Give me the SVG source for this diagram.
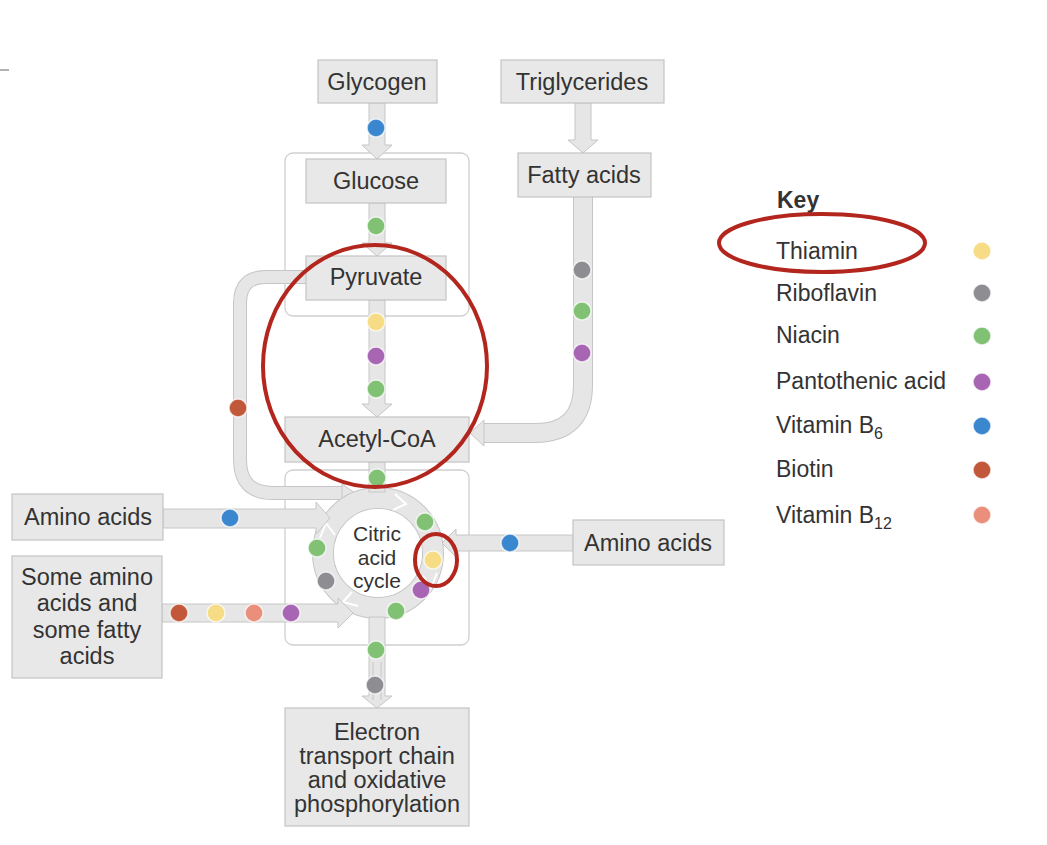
<svg xmlns="http://www.w3.org/2000/svg" width="1047" height="845" viewBox="0 0 1047 845">
<style>
.box{fill:#e8e8e8;stroke:#c4c4c4;stroke-width:1.2}
.frame{fill:none;stroke:#cfcfcf;stroke-width:1.3}
.t{font-family:"Liberation Sans",Arial,sans-serif;font-size:23.5px;fill:#333;text-anchor:middle;dominant-baseline:central}
.c{font-size:21px}
.k{font-family:"Liberation Sans",Arial,sans-serif;font-size:23px;fill:#333}
.po{fill:none;stroke:#c6c6c6}
.pi{fill:none;stroke:#e6e6e6}
.head{fill:#e6e6e6;stroke:#c6c6c6;stroke-width:1}
.dot{stroke:#fff;stroke-opacity:0.7;stroke-width:1.5}
.ann{fill:none;stroke:#b3261e;stroke-width:4}
.yel{fill:#f6dc85}.gry{fill:#8d8d92}.grn{fill:#80c173}.pur{fill:#a865b4}.blu{fill:#3b87cf}.brn{fill:#c2583a}.sal{fill:#e98f7b}
</style>
<line x1="0" y1="70" x2="9" y2="70" stroke="#999" stroke-width="1.5"/>
<rect class="frame" x="285" y="153" width="184" height="163" rx="8"/>
<rect class="frame" x="285" y="470" width="184" height="175" rx="8"/>
<g id="connectors">
  <polygon class="head" points="369,103 385,103 385,145 392,145 377,159 362,145 369,145"/>
  <polygon class="head" points="369,203 385,203 385,243 392,243 377,256 362,243 369,243"/>
  <polygon class="head" points="369,300 385,300 385,404 392,404 377,417 362,404 369,404"/>
  <polygon class="head" points="575,103 591,103 591,140 598,140 583,153 568,140 575,140"/>
  <path class="po" stroke-width="20" d="M583,197 V385 Q583,433 535,433 H482"/>
  <path class="pi" stroke-width="18" d="M583,196 V385 Q583,433 535,433 H481"/>
  <polygon class="head" points="484,420 470,433 484,446"/>
  <path class="po" stroke-width="14" d="M306,277 H266 Q240,277 240,303 V460 Q240,493 273,493 H342"/>
  <path class="pi" stroke-width="12" d="M307,277 H266 Q240,277 240,303 V460 Q240,493 273,493 H343"/>
  <polygon class="head" points="342,484 355,493 342,502"/>
  <circle cx="378" cy="553" r="55" fill="none" stroke="#c6c6c6" stroke-width="22"/>
  <circle cx="378" cy="553" r="55" fill="none" stroke="#e6e6e6" stroke-width="20"/>
  <circle cx="378" cy="553" r="44" fill="#fff"/>
  <path d="M395,494 L406,504 L393,510" fill="none" stroke="#fff" stroke-width="2"/>
  <path d="M437,573 L431,588 L423,576" fill="none" stroke="#fff" stroke-width="2"/>
  <path d="M358,606 L343,602 L352,592" fill="none" stroke="#fff" stroke-width="2"/>
  <path d="M320,538 L326,523 L335,535" fill="none" stroke="#fff" stroke-width="2"/>
  <rect x="369" y="462" width="16" height="30" fill="#e6e6e6" stroke="#c6c6c6"/>
  <polygon class="head" points="163,509 316,509 316,502 330,518 316,534 316,528 163,528"/>
  <polygon class="head" points="162,604 338,604 338,598 353,613 338,628 338,622 162,622"/>
  <polygon class="head" points="573,535 456,535 456,529 442,543 456,557 456,551 573,551"/>
  <polygon class="head" points="369,617 385,617 385,696 392,696 377,708 362,696 369,696"/>
  <line x1="373" y1="662" x2="373" y2="700" stroke="#c6c6c6" stroke-width="1"/>
  <line x1="381" y1="662" x2="381" y2="700" stroke="#c6c6c6" stroke-width="1"/>
</g>
<g id="glycogen"><rect class="box" x="318" y="60" width="119" height="43"/><text class="t" x="377" y="82">Glycogen</text></g>
<g id="triglycerides"><rect class="box" x="501" y="60" width="163" height="43"/><text class="t" x="582" y="82">Triglycerides</text></g>
<g id="glucose"><rect class="box" x="306" y="159" width="140" height="44"/><text class="t" x="376" y="181">Glucose</text></g>
<g id="fatty-acids"><rect class="box" x="518" y="153" width="133" height="44"/><text class="t" x="584" y="175">Fatty acids</text></g>
<g id="pyruvate"><rect class="box" x="306" y="256" width="140" height="44"/><text class="t" x="376" y="277">Pyruvate</text></g>
<g id="acetyl-coa"><rect class="box" x="285" y="417" width="184" height="45"/><text class="t" x="377" y="439">Acetyl-CoA</text></g>
<g id="amino-acids-left"><rect class="box" x="12" y="494" width="151" height="46"/><text class="t" x="88" y="517">Amino acids</text></g>
<g id="some-amino-acids"><rect class="box" x="12" y="556" width="150" height="122"/>
  <text class="t" x="87" y="577">Some amino</text><text class="t" x="87" y="603">acids and</text><text class="t" x="87" y="630">some fatty</text><text class="t" x="87" y="656">acids</text></g>
<g id="amino-acids-right"><rect class="box" x="573" y="520" width="151" height="45"/><text class="t" x="648" y="543">Amino acids</text></g>
<g id="citric-acid-cycle"><text class="t c" x="377" y="533">Citric</text><text class="t c" x="377" y="557">acid</text><text class="t c" x="377" y="580">cycle</text></g>
<g id="etc"><rect class="box" x="285" y="708" width="184" height="118"/>
  <text class="t" x="377" y="732">Electron</text><text class="t" x="377" y="756">transport chain</text><text class="t" x="377" y="780">and oxidative</text><text class="t" x="377" y="804">phosphorylation</text></g>
<g id="dots">
  <circle class="dot blu" cx="376" cy="128" r="9"/>
  <circle class="dot grn" cx="376" cy="226" r="9"/>
  <circle class="dot yel" cx="376" cy="322" r="9"/>
  <circle class="dot pur" cx="376" cy="356" r="9"/>
  <circle class="dot grn" cx="376" cy="389" r="9"/>
  <circle class="dot gry" cx="582" cy="270" r="9"/>
  <circle class="dot grn" cx="582" cy="311" r="9"/>
  <circle class="dot pur" cx="582" cy="353" r="9"/>
  <circle class="dot brn" cx="238" cy="408" r="9"/>
  <circle class="dot blu" cx="230" cy="518" r="9"/>
  <circle class="dot brn" cx="179" cy="613" r="9"/>
  <circle class="dot yel" cx="216" cy="613" r="9"/>
  <circle class="dot sal" cx="254" cy="613" r="9"/>
  <circle class="dot pur" cx="291" cy="613" r="9"/>
  <circle class="dot blu" cx="510" cy="543" r="9"/>
  <circle class="dot grn" cx="377" cy="478" r="9"/>
  <circle class="dot grn" cx="425" cy="522" r="9"/>
  <circle class="dot yel" cx="433" cy="560" r="9"/>
  <circle class="dot pur" cx="421" cy="590" r="9"/>
  <circle class="dot grn" cx="396" cy="611" r="9"/>
  <circle class="dot grn" cx="317" cy="548" r="9"/>
  <circle class="dot gry" cx="326" cy="581" r="9"/>
  <circle class="dot grn" cx="376" cy="650" r="9"/>
  <circle class="dot gry" cx="375" cy="685" r="9"/>
</g>
<g id="key">
  <text class="k" x="777" y="208" font-weight="bold" font-size="21">Key</text>
  <text class="k" x="776" y="259">Thiamin</text><circle class="dot yel" cx="982" cy="251" r="9"/>
  <text class="k" x="776" y="301">Riboflavin</text><circle class="dot gry" cx="982" cy="293" r="9"/>
  <text class="k" x="776" y="343">Niacin</text><circle class="dot grn" cx="982" cy="336" r="9"/>
  <text class="k" x="776" y="389">Pantothenic acid</text><circle class="dot pur" cx="982" cy="382" r="9"/>
  <text class="k" x="776" y="433">Vitamin B<tspan font-size="16" dy="6">6</tspan></text><circle class="dot blu" cx="982" cy="426" r="9"/>
  <text class="k" x="776" y="477">Biotin</text><circle class="dot brn" cx="982" cy="470" r="9"/>
  <text class="k" x="776" y="523">Vitamin B<tspan font-size="16" dy="6">12</tspan></text><circle class="dot sal" cx="982" cy="515" r="9"/>
</g>
<g id="annotations">
  <ellipse class="ann" cx="375" cy="366" rx="112" ry="121"/>
  <ellipse class="ann" cx="822" cy="243" rx="103" ry="29"/>
  <ellipse class="ann" cx="436" cy="560" rx="21" ry="26"/>
</g>
</svg>
